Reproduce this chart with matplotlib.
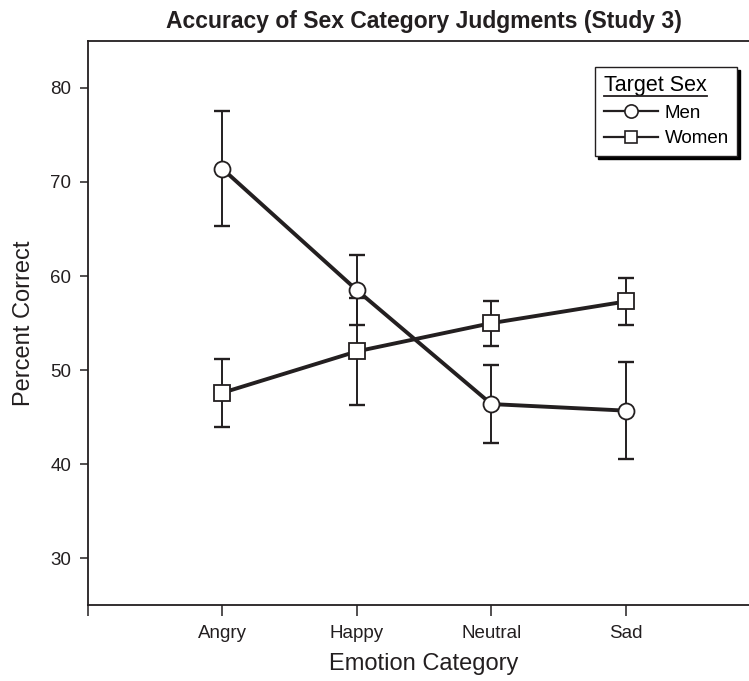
import matplotlib.pyplot as plt
from matplotlib.lines import Line2D

plt.rcParams['font.family'] = ['Liberation Sans', 'DejaVu Sans']

# data
categories = ['Angry', 'Happy', 'Neutral', 'Sad']
men = [71.4, 58.5, 46.4, 45.7]
men_err = [6.1, 3.7, 4.1, 5.15]
women = [47.6, 52.0, 55.0, 57.3]
women_err = [3.6, 5.7, 2.4, 2.45]
yticks = [30, 40, 50, 60, 70, 80]

ink = '#231f20'

fig = plt.figure(figsize=(7.49, 6.81), dpi=100)
ax = fig.add_axes([0.1175, 0.111, 0.8975, 0.829])

x = list(range(1, len(categories) + 1))

# error bars first, then lines with markers on top
ax.errorbar(x, men, yerr=men_err, fmt='none', ecolor=ink, elinewidth=1.4,
            capsize=6, capthick=1.7, zorder=2)
ax.errorbar(x, women, yerr=women_err, fmt='none', ecolor=ink, elinewidth=1.4,
            capsize=6, capthick=1.7, zorder=2)
ax.plot(x, men, color=ink, lw=2.8, marker='o', ms=11.5, mfc='white',
        mec=ink, mew=1.3, zorder=3, label='Men')
ax.plot(x, women, color=ink, lw=2.8, marker='s', ms=11.5, mfc='white',
        mec=ink, mew=1.3, zorder=3, label='Women')

ax.set_xlim(0, 5)
ax.set_ylim(25, 85)
ax.set_xticks(range(0, 6))
ax.set_xticklabels([''] + categories + [''])
ax.set_yticks(yticks)

for s in ax.spines.values():
    s.set_color(ink)
    s.set_linewidth(1.3)
ax.tick_params(axis='x', length=8, width=1.1, color=ink, labelsize=13.5, pad=6,
               labelcolor=ink)
ax.tick_params(axis='y', length=6, width=1.1, color=ink, labelsize=13.5, pad=6,
               labelcolor=ink)

ax.set_title('Accuracy of Sex Category Judgments (Study 3)', fontsize=16.5,
             fontweight='bold', pad=9, color=ink)
ax.set_xlabel('Emotion Category', fontsize=17, labelpad=8, color=ink)
ax.set_ylabel('Percent Correct', fontsize=17, labelpad=11, color=ink)

handles = [
    Line2D([], [], color=ink, lw=1.6, marker='o', ms=9.5, mfc='white', mec=ink, mew=1.2),
    Line2D([], [], color=ink, lw=1.6, marker='s', ms=9, mfc='white', mec=ink, mew=1.2),
]
leg = ax.legend(handles, ['Men', 'Women'], title='Target Sex', fontsize=13.5,
                title_fontsize=15.5, loc='upper right', bbox_to_anchor=(0.966, 0.954),
                fancybox=False, shadow={'color': 'black', 'alpha': 1},
                handlelength=2.9, handletextpad=0.35, labelspacing=0.45,
                borderpad=0.45, borderaxespad=0, framealpha=1, alignment='left')
leg.get_frame().set_edgecolor(ink)
leg.get_frame().set_linewidth(1.0)

# underline the legend title
fig.canvas.draw()
bb = leg.get_title().get_window_extent().transformed(fig.transFigure.inverted())
fig.add_artist(Line2D([bb.x0, bb.x1], [bb.y0 + 0.001, bb.y0 + 0.001],
                      transform=fig.transFigure, color=ink, lw=1.3))

fig.savefig('out.png', dpi=100)
